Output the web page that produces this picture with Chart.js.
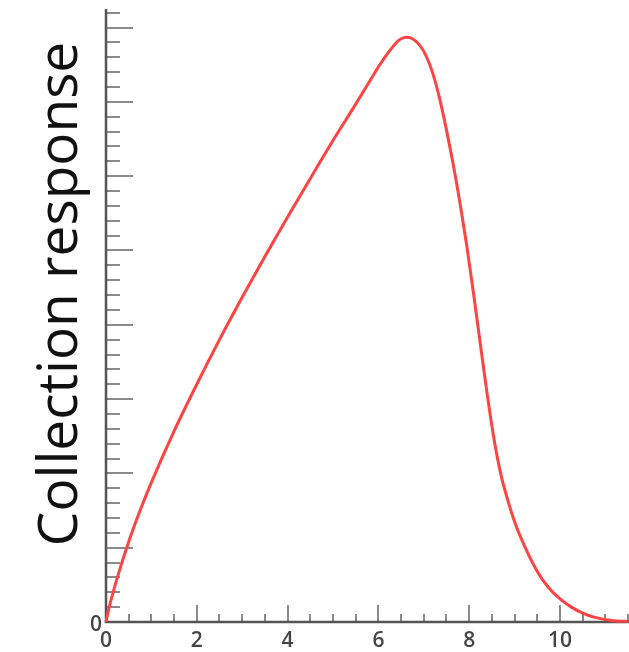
<!DOCTYPE html>
<html>
<head>
<meta charset="utf-8">
<script src="https://cdn.jsdelivr.net/npm/chart.js@4"></script>
<style>
  html, body { margin: 0; padding: 0; background: #fff; }
  canvas { display: block; }
</style>
</head>
<body>
<canvas id="chart" width="629" height="652"></canvas>
<script>
// curve
const xValues = [0, 0.05, 0.1, 0.25, 0.5, 0.75, 1.0, 1.5, 2.0, 2.5, 3.0, 3.5, 4.0, 4.5, 5.0, 5.5, 5.8, 6.0, 6.2, 6.4, 6.5, 6.62,
  6.75, 6.9, 7.05, 7.2, 7.35, 7.5, 7.65, 7.8, 7.95, 8.1, 8.25, 8.4, 8.55, 8.7, 8.85, 9.0, 9.25, 9.5, 9.75, 10.0, 10.25, 10.5,
  10.75, 11.0, 11.25, 11.5];
const yValues = [0, 0.15, 0.27, 0.6, 1.08, 1.5, 1.88, 2.57, 3.2, 3.8, 4.37, 4.92, 5.45, 5.97, 6.48, 6.97, 7.27, 7.47, 7.65, 7.8, 7.85, 7.87,
  7.85, 7.77, 7.62, 7.38, 7.04, 6.62, 6.15, 5.63, 5.05, 4.4, 3.72, 3.05, 2.45, 1.98, 1.64, 1.35, 0.98, 0.68, 0.46, 0.31, 0.2, 0.12,
  0.065, 0.032, 0.015, 0.006];

const xTickLabels = ['0', '2', '4', '6', '8', '10'];
const yTickLabels = ['0'];
const yTitle = 'Collection response';

const points = xValues.map((x, i) => ({ x, y: yValues[i] }));

// axes with inward ticks, like the original plot
const axesPlugin = {
  id: 'inwardAxes',
  beforeDatasetsDraw(chart) {
    const { ctx, chartArea: a, scales: { x, y } } = chart;
    ctx.save();
    ctx.lineWidth = 2;
    ctx.strokeStyle = '#8a8a8a';
    // y ticks every 0.2, major every 1
    for (let i = 0; i <= 41; i++) {
      const py = Math.round(y.getPixelForValue(i * 0.2));
      const len = i % 5 === 0 ? 27 : 14;
      ctx.beginPath();
      ctx.moveTo(a.left, py);
      ctx.lineTo(a.left + len, py);
      ctx.stroke();
    }
    // x ticks every 0.5, major every 2
    for (let i = 0; i <= 23; i++) {
      const px = Math.round(x.getPixelForValue(i * 0.5));
      const len = i % 4 === 0 ? 17 : 8;
      ctx.beginPath();
      ctx.moveTo(px, a.bottom);
      ctx.lineTo(px, a.bottom - len);
      ctx.stroke();
    }
    ctx.strokeStyle = '#555';
    ctx.lineWidth = 2.5;
    ctx.beginPath();
    ctx.moveTo(a.left, a.top);
    ctx.lineTo(a.left, a.bottom);
    ctx.lineTo(a.right, a.bottom);
    ctx.stroke();

    ctx.fillStyle = '#444';
    ctx.font = '600 21px "Open Sans"';
    ctx.textAlign = 'center';
    ctx.textBaseline = 'middle';
    xTickLabels.forEach(t => {
      ctx.fillText(t, x.getPixelForValue(Number(t)), a.bottom + 19);
    });
    ctx.textAlign = 'right';
    yTickLabels.forEach(t => {
      ctx.fillText(t, a.left - 4, y.getPixelForValue(Number(t)) + 3);
    });

    // rotated axis title
    ctx.fillStyle = '#111';
    ctx.font = '55px "Open Sans"';
    ctx.textAlign = 'center';
    ctx.textBaseline = 'alphabetic';
    ctx.translate(77, 294);
    ctx.rotate(-Math.PI / 2);
    ctx.fillText(yTitle, 0, 0);
    ctx.restore();
  }
};

new Chart(document.getElementById('chart'), {
  type: 'line',
  data: {
    datasets: [{
      data: points,
      borderColor: '#ff4343',
      borderWidth: 3,
      pointRadius: 0,
      cubicInterpolationMode: 'monotone',
      fill: false,
      clip: false
    }]
  },
  options: {
    responsive: false,
    animation: false,
    layout: { padding: { left: 106, top: 9, bottom: 30, right: 0 } },
    plugins: { legend: { display: false }, tooltip: { enabled: false } },
    scales: {
      x: { type: 'linear', min: 0, max: 11.52, display: false },
      y: { type: 'linear', min: 0, max: 8.25, display: false }
    }
  },
  plugins: [axesPlugin]
});
</script>
</body>
</html>
